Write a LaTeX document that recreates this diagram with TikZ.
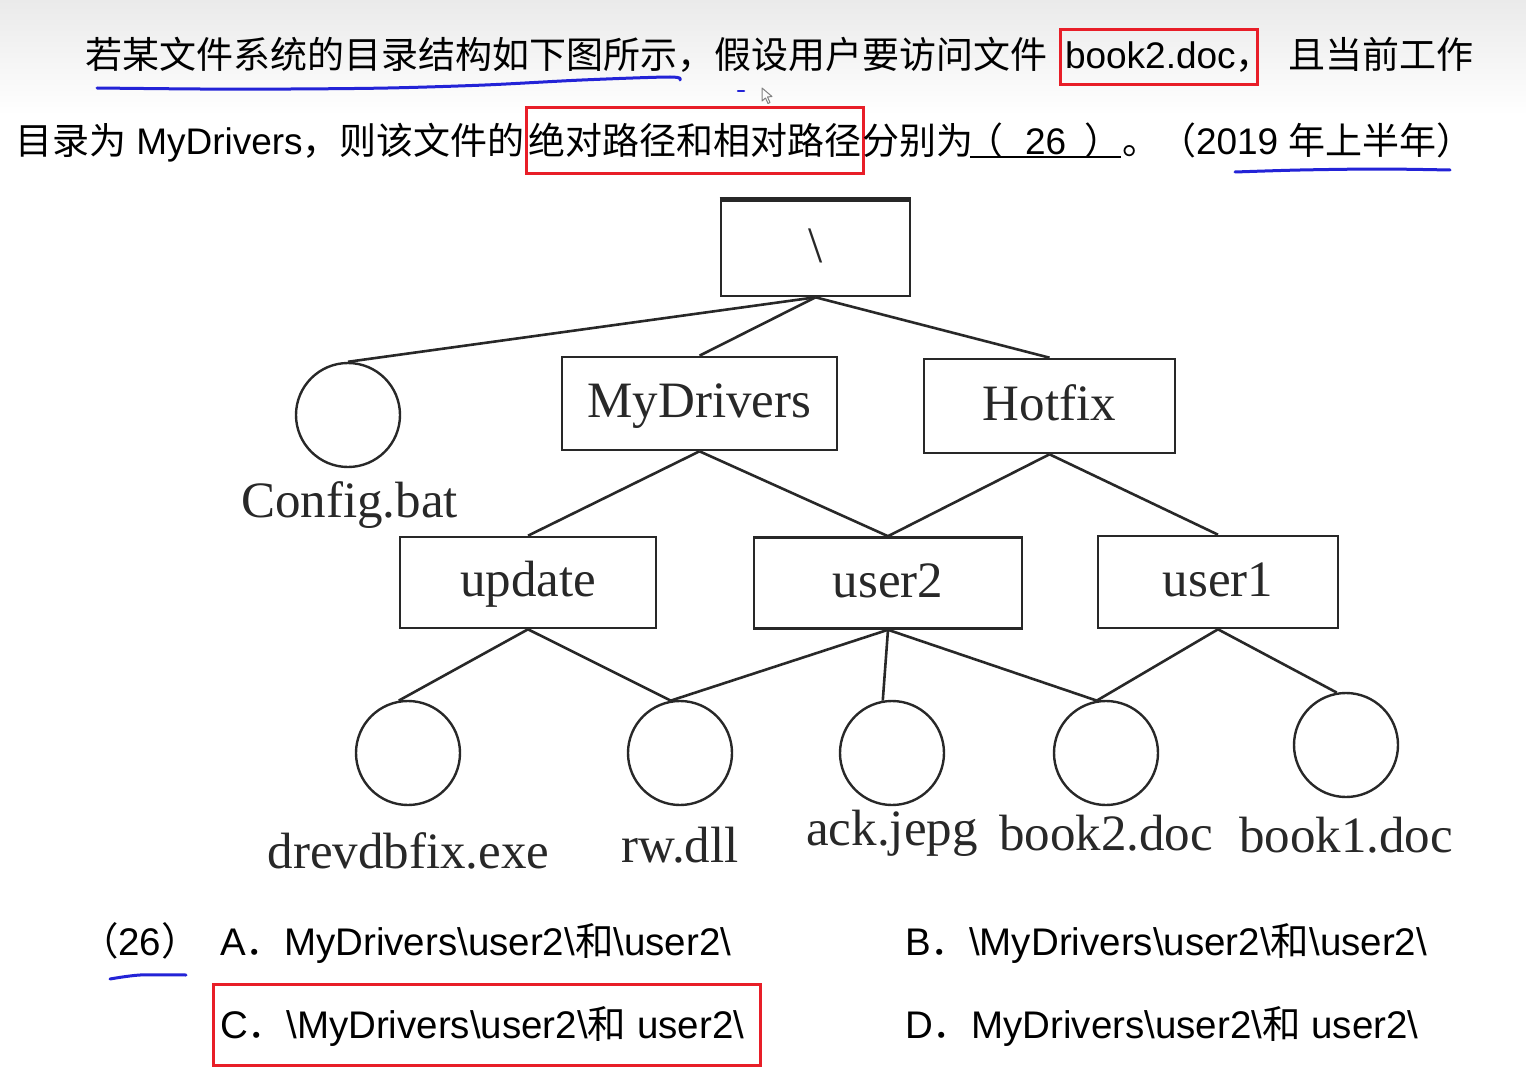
\documentclass[tikz,border=0pt]{standalone}
\usepackage{fontspec}
\setmainfont{Liberation Sans}
\newfontfamily\cjk{Noto Sans CJK SC}
\newfontfamily\tnr{Liberation Serif}
\usetikzlibrary{calc}
\definecolor{annred}{RGB}{232,30,40}
\definecolor{annblue}{RGB}{35,35,215}
\definecolor{ink}{RGB}{40,40,40}
\newcommand{\bsl}{\textbackslash}
\begin{document}
\begin{tikzpicture}[x=1pt,y=-1pt,
  hdr/.style={anchor=base west, inner sep=0pt, outer sep=0pt, font=\fontsize{37}{44}\selectfont, text=black},
  opt/.style={hdr, font=\fontsize{38.5}{46}\selectfont},
  redbox/.style={draw=annred, line width=3pt, anchor=base west, outer sep=0pt, font=\fontsize{37}{44}\selectfont, text=black},
  dirbox/.style={draw=ink, line width=2.6pt, rectangle, inner sep=0pt, text height=36pt, text depth=8pt, font=\tnr\fontsize{51}{60}\selectfont, text=ink},
  filec/.style={draw=ink, line width=2.4pt, circle, minimum size=104pt, inner sep=0pt},
  flabel/.style={anchor=base, inner sep=0pt, font=\tnr\fontsize{51}{60}\selectfont, text=ink},
  edge/.style={draw=ink, line width=2.6pt},
  blueink/.style={draw=annblue, line width=3pt, line cap=round, line join=round}
]
\fill[white] (0,0) rectangle (1526,1089);
\shade[top color={rgb,255:red,234;green,234;blue,234}, bottom color=white] (0,0) rectangle (1526,115);
\useasboundingbox (0,0) rectangle (1526,1089);

% ---- question text ----
\node[hdr] (t1a) at (85,69) {\cjk 若某文件系统的目录结构如下图所示，假设用户要访问文件};
\node[redbox, text height=35pt, text depth=12pt, inner ysep=4pt, inner xsep=5pt] (t1b) at (1060,69) {book2.doc{\cjk ，}\kern-0.55em};
\node[hdr] (t1c) at (1288,69) {\cjk 且当前工作};

\node[hdr] (t2a) at (15,154) {{\cjk 目录为} MyDrivers{\cjk ，则该文件的}};
\node[redbox, text height=42pt, text depth=15pt, inner ysep=4pt, inner xsep=2pt] (t2b) at (526,154) {\cjk 绝对路径和相对路径};
\node[hdr] (t2c) at (862,154) {\cjk 分别为};
\node[hdr] (t2d) at (966,154) {{\cjk （}\kern22pt 26\kern18pt{\cjk ）}};
\draw[black, line width=2.5pt] (970,157) -- (1121,157);
\node[hdr] (t2e) at (1122,154) {{\cjk 。（}2019 {\cjk 年上半年）}};

% annotations
\draw[blueink] plot[smooth] coordinates {(97,88) (200,89) (291,89) (388,88) (485,85) (582,80) (670,77) (680,80)};
\draw[blueink, line width=2.5pt] (738,91) -- (744,91);
\draw[gray, line width=1pt, line join=round] (762,88) -- (762,101) -- (765.5,98) -- (768,103.5) -- (770,102.5) -- (767.5,97) -- (772,96.5) -- cycle;
\draw[blueink] plot[smooth] coordinates {(1235,172) (1300,170) (1380,169) (1450,170)};

% ---- tree ----
\node[dirbox, minimum width=189pt, minimum height=96pt] (root) at (815.5,248) {\bsl};
\draw[ink, line width=4.5pt] ([yshift=-1pt]root.north west) -- ([yshift=-1pt]root.north east);
\node[dirbox, minimum width=275pt, minimum height=93pt] (myd) at (699.5,403.5) {MyDrivers};
\node[dirbox, minimum width=251pt, minimum height=94pt] (hot) at (1049.5,406) {Hotfix};
\node[dirbox, minimum width=256pt, minimum height=91pt] (upd) at (528,582.5) {update};
\node[dirbox, minimum width=268pt, minimum height=91pt] (us2) at (888,583) {user2};
\node[dirbox, minimum width=240pt, minimum height=92pt] (us1) at (1218,582) {user1};

\node[filec] (cfg) at (348,415) {};
\node[filec] (drv) at (408,753) {};
\node[filec] (rw)  at (680,753) {};
\node[filec] (ack) at (892,753) {};
\node[filec] (bk2) at (1106,753) {};
\node[filec] (bk1) at (1346,745) {};

\node[flabel] (lcfg) at (349.5,517) {Config.bat};
\node[flabel] (ldrv) at (408.5,868) {drevdbfix.exe};
\node[flabel] (lrw)  at (680,862) {rw.dll};
\node[flabel] (lack) at (892,845) {ack.jepg};
\node[flabel] (lbk2) at (1106,850) {book2.doc};
\node[flabel] (lbk1) at (1346,852) {book1.doc};

\draw[edge] (root.south) -- (cfg.north);
\draw[edge] (root.south) -- (myd.north);
\draw[edge] (root.south) -- (hot.north);
\draw[edge] (myd.south) -- (upd.north);
\draw[edge] (myd.south) -- (us2.north);
\draw[edge] (hot.south) -- (us2.north);
\draw[edge] (hot.south) -- (us1.north);
\draw[edge] (upd.south) -- (drv.100);
\draw[edge] (upd.south) -- (rw.100);
\draw[edge] (us2.south) -- (rw.100);
\draw[edge] (us2.south) -- (ack.100);
\draw[edge] (us2.south) -- (bk2.100);
\draw[edge] (us1.south) -- (bk2.100);
\draw[edge] (us1.south) -- (bk1.100);

% ---- options ----
\node[opt] (o26) at (80,955) {{\cjk （}26{\cjk ）}};
\draw[blueink] plot[smooth] coordinates {(110,979) (140,975) (186,975)};
\node[opt] (oA) at (220,955) {A{\cjk ．}MyDrivers\bsl user2\bsl{\cjk 和}\bsl user2\bsl};
\node[opt] (oB) at (905,955) {B{\cjk ．}\bsl MyDrivers\bsl user2\bsl{\cjk 和}\bsl user2\bsl};
\node[redbox, font=\fontsize{38.5}{46}\selectfont, text height=50pt, text depth=23pt, inner ysep=4pt, inner xsep=7pt] (oC) at (213,1038) {\makebox[533pt][l]{C{\cjk ．}\bsl MyDrivers\bsl user2\bsl{\cjk 和} user2\bsl}};
\node[opt] (oD) at (905,1038) {D{\cjk ．}MyDrivers\bsl user2\bsl{\cjk 和} user2\bsl};
\end{tikzpicture}
\end{document}
